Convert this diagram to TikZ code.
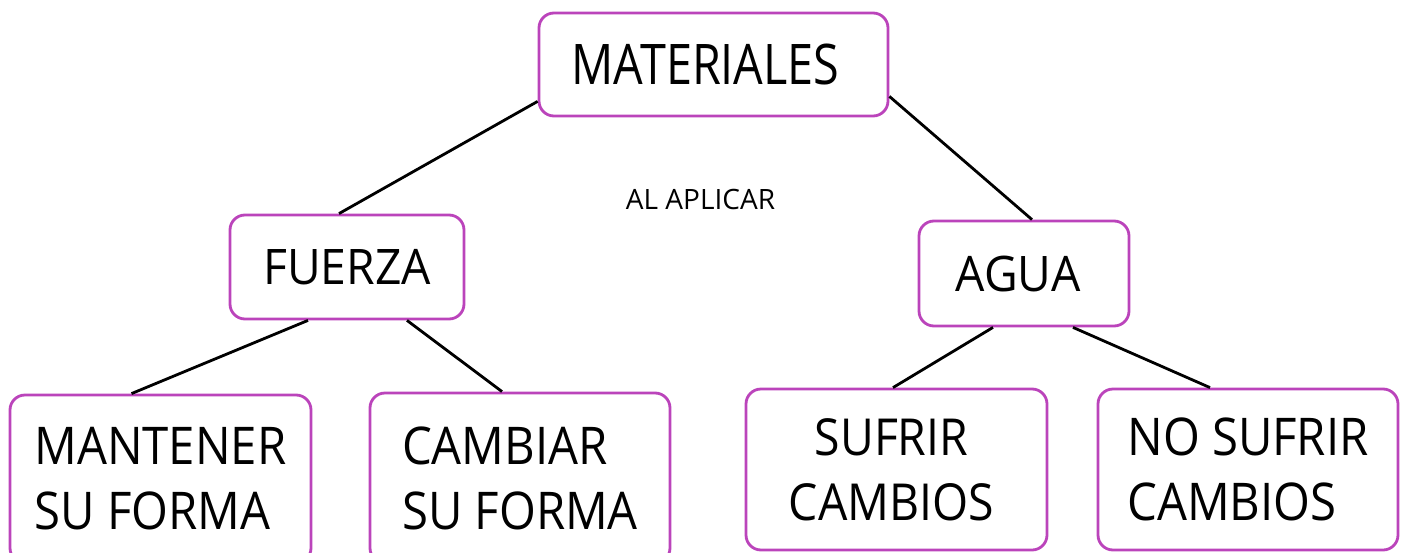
\documentclass[tikz,border=0pt]{standalone}
\usepackage{fontspec}
\newfontfamily\matfont[FakeStretch=0.835]{Open Sans}
\newfontfamily\midfont[FakeStretch=0.945]{Open Sans}
\newfontfamily\boxfont[FakeStretch=0.91]{Open Sans}
\newfontfamily\lblfont{Open Sans}
\definecolor{boxpink}{RGB}{187,68,187}
\begin{document}
\begin{tikzpicture}[x=1pt,y=-1pt,
  box/.style={draw=boxpink,line width=2.8pt,rounded corners=15pt,fill=white,inner sep=0pt,text=black},
  conn/.style={draw=black,line width=2.8pt}]
\useasboundingbox[fill=white] (0,0) rectangle (1401,552);
\node[box,minimum width=349pt,minimum height=103pt,font=\matfont\fontsize{56}{65}\selectfont] (mat) at (713.5,64.5) {MATERIALES\hspace*{16pt}};
\node[box,minimum width=234pt,minimum height=104pt,font=\midfont\fontsize{49}{60}\selectfont] (fue) at (347,267) {FUERZA};
\node[box,minimum width=210pt,minimum height=105pt,font=\midfont\fontsize{49}{60}\selectfont] (agua) at (1024,273.5) {AGUA\hspace*{12pt}};
\node[box,minimum width=301pt,minimum height=168pt,align=left,font=\boxfont\fontsize{52}{65}\selectfont] (man) at (160.5,479) {MANTENER\\SU FORMA};
\node[box,minimum width=300pt,minimum height=170pt,align=left,font=\boxfont\fontsize{52}{65}\selectfont] (cam) at (520,478) {CAMBIAR\\SU FORMA};
\node[box,minimum width=301pt,minimum height=161pt,align=center,font=\boxfont\fontsize{51}{65}\selectfont] (suf) at (896.5,469.5) {SUFRIR\hspace*{10pt}\\CAMBIOS\hspace*{10pt}};
\node[box,minimum width=300pt,minimum height=161pt,align=left,font=\boxfont\fontsize{52}{65}\selectfont] (nos) at (1248,469.5) {NO SUFRIR\\CAMBIOS};
\node[font=\lblfont\fontsize{28}{32}\selectfont,inner sep=0pt] (apl) at (700.5,199) {AL APLICAR};
\draw[conn] ([yshift=16pt]mat.south west) -- ([xshift=-8pt]fue.north);
\draw[conn] ([yshift=21pt]mat.south east) -- ([xshift=8pt]agua.north);
\draw[conn] ([xshift=-39pt]fue.south) -- ([xshift=-29pt]man.north);
\draw[conn] ([xshift=60pt]fue.south) -- ([xshift=-18pt]cam.north);
\draw[conn] ([xshift=-31pt]agua.south) -- ([xshift=-3.5pt]suf.north);
\draw[conn] ([xshift=49pt]agua.south) -- ([xshift=-38pt]nos.north);
\end{tikzpicture}
\end{document}
